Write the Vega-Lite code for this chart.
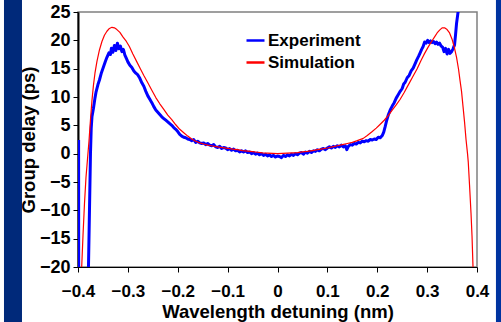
{
  "$schema": "https://vega.github.io/schema/vega-lite/v6.json",
  "autosize": "none",
  "width": 399,
  "height": 255,
  "padding": {"left": 78, "top": 12, "right": 24, "bottom": 55},
  "background": "white",
  "config": {
    "view": {"stroke": "#808080", "strokeWidth": 1.5},
    "font": "Liberation Sans",
    "axis": {
      "labelFont": "Liberation Sans", "labelFontWeight": "bold", "labelColor": "black",
      "titleFont": "Liberation Sans", "titleFontWeight": "bold", "titleColor": "black",
      "domainColor": "black", "tickColor": "black", "grid": false
    },
    "legend": {"labelFont": "Liberation Sans", "labelFontWeight": "bold", "labelColor": "black"}
  },
  "resolve": {"axis": {"x": "independent", "y": "independent"}},
  "datasets": {
    "bands": [
      {"side": "left", "x0": -0.5484, "x1": -0.5123, "y0": -40, "y1": 40},
      {"side": "right", "x0": 0.438, "x1": 0.47, "y0": -40, "y1": 40}
    ],
    "curves": [
      {"series": "Experiment", "detuning": -0.3988, "delay": 2.4},
      {"series": "Experiment", "detuning": -0.3986, "delay": -30},
      {"series": "Experiment", "detuning": -0.3795, "delay": -30},
      {"series": "Experiment", "detuning": -0.379, "delay": -20},
      {"series": "Experiment", "detuning": -0.377, "delay": -10},
      {"series": "Experiment", "detuning": -0.375, "delay": 0},
      {"series": "Experiment", "detuning": -0.3735, "delay": 4.5},
      {"series": "Experiment", "detuning": -0.372, "delay": 6.5},
      {"series": "Experiment", "detuning": -0.369, "delay": 8.0},
      {"series": "Experiment", "detuning": -0.366, "delay": 9.8},
      {"series": "Experiment", "detuning": -0.364, "delay": 10.8},
      {"series": "Experiment", "detuning": -0.36, "delay": 12.2},
      {"series": "Experiment", "detuning": -0.357, "delay": 13.0},
      {"series": "Experiment", "detuning": -0.353, "delay": 14.3},
      {"series": "Experiment", "detuning": -0.349, "delay": 15.3},
      {"series": "Experiment", "detuning": -0.345, "delay": 16.3},
      {"series": "Experiment", "detuning": -0.342, "delay": 17.0},
      {"series": "Experiment", "detuning": -0.338, "delay": 17.8},
      {"series": "Experiment", "detuning": -0.335, "delay": 17.5},
      {"series": "Experiment", "detuning": -0.333, "delay": 18.6},
      {"series": "Experiment", "detuning": -0.33, "delay": 17.9},
      {"series": "Experiment", "detuning": -0.327, "delay": 19.1},
      {"series": "Experiment", "detuning": -0.324, "delay": 18.2},
      {"series": "Experiment", "detuning": -0.321, "delay": 19.5},
      {"series": "Experiment", "detuning": -0.318, "delay": 18.5},
      {"series": "Experiment", "detuning": -0.315, "delay": 19.0},
      {"series": "Experiment", "detuning": -0.312, "delay": 18.0},
      {"series": "Experiment", "detuning": -0.309, "delay": 18.4},
      {"series": "Experiment", "detuning": -0.306, "delay": 17.4},
      {"series": "Experiment", "detuning": -0.303, "delay": 16.8},
      {"series": "Experiment", "detuning": -0.3, "delay": 16.2},
      {"series": "Experiment", "detuning": -0.296, "delay": 15.6},
      {"series": "Experiment", "detuning": -0.292, "delay": 15.2},
      {"series": "Experiment", "detuning": -0.288, "delay": 14.6},
      {"series": "Experiment", "detuning": -0.284, "delay": 14.2},
      {"series": "Experiment", "detuning": -0.28, "delay": 13.9},
      {"series": "Experiment", "detuning": -0.276, "delay": 13.3},
      {"series": "Experiment", "detuning": -0.272, "delay": 12.5},
      {"series": "Experiment", "detuning": -0.268, "delay": 11.9},
      {"series": "Experiment", "detuning": -0.264, "delay": 11.0},
      {"series": "Experiment", "detuning": -0.26, "delay": 10.2},
      {"series": "Experiment", "detuning": -0.256, "delay": 9.6},
      {"series": "Experiment", "detuning": -0.252, "delay": 9.0},
      {"series": "Experiment", "detuning": -0.248, "delay": 8.3},
      {"series": "Experiment", "detuning": -0.244, "delay": 7.7},
      {"series": "Experiment", "detuning": -0.24, "delay": 7.3},
      {"series": "Experiment", "detuning": -0.236, "delay": 6.9},
      {"series": "Experiment", "detuning": -0.232, "delay": 6.5},
      {"series": "Experiment", "detuning": -0.228, "delay": 6.2},
      {"series": "Experiment", "detuning": -0.224, "delay": 5.9},
      {"series": "Experiment", "detuning": -0.22, "delay": 5.6},
      {"series": "Experiment", "detuning": -0.216, "delay": 5.3},
      {"series": "Experiment", "detuning": -0.212, "delay": 5.0},
      {"series": "Experiment", "detuning": -0.208, "delay": 4.6},
      {"series": "Experiment", "detuning": -0.204, "delay": 4.3},
      {"series": "Experiment", "detuning": -0.2, "delay": 3.9},
      {"series": "Experiment", "detuning": -0.196, "delay": 3.4},
      {"series": "Experiment", "detuning": -0.192, "delay": 3.1},
      {"series": "Experiment", "detuning": -0.188, "delay": 2.9},
      {"series": "Experiment", "detuning": -0.184, "delay": 2.8},
      {"series": "Experiment", "detuning": -0.18, "delay": 2.6},
      {"series": "Experiment", "detuning": -0.176, "delay": 2.5},
      {"series": "Experiment", "detuning": -0.172, "delay": 2.3},
      {"series": "Experiment", "detuning": -0.168, "delay": 2.5},
      {"series": "Experiment", "detuning": -0.164, "delay": 2.0},
      {"series": "Experiment", "detuning": -0.16, "delay": 2.2},
      {"series": "Experiment", "detuning": -0.156, "delay": 1.9},
      {"series": "Experiment", "detuning": -0.152, "delay": 1.8},
      {"series": "Experiment", "detuning": -0.148, "delay": 1.9},
      {"series": "Experiment", "detuning": -0.144, "delay": 1.6},
      {"series": "Experiment", "detuning": -0.14, "delay": 1.8},
      {"series": "Experiment", "detuning": -0.136, "delay": 1.5},
      {"series": "Experiment", "detuning": -0.132, "delay": 1.4},
      {"series": "Experiment", "detuning": -0.128, "delay": 1.6},
      {"series": "Experiment", "detuning": -0.124, "delay": 1.2},
      {"series": "Experiment", "detuning": -0.12, "delay": 1.1},
      {"series": "Experiment", "detuning": -0.116, "delay": 1.3},
      {"series": "Experiment", "detuning": -0.112, "delay": 0.9},
      {"series": "Experiment", "detuning": -0.108, "delay": 1.1},
      {"series": "Experiment", "detuning": -0.104, "delay": 1.0},
      {"series": "Experiment", "detuning": -0.1, "delay": 0.7},
      {"series": "Experiment", "detuning": -0.096, "delay": 0.9},
      {"series": "Experiment", "detuning": -0.092, "delay": 0.6},
      {"series": "Experiment", "detuning": -0.088, "delay": 0.8},
      {"series": "Experiment", "detuning": -0.084, "delay": 0.5},
      {"series": "Experiment", "detuning": -0.08, "delay": 0.6},
      {"series": "Experiment", "detuning": -0.076, "delay": 0.3},
      {"series": "Experiment", "detuning": -0.072, "delay": 0.5},
      {"series": "Experiment", "detuning": -0.068, "delay": 0.3},
      {"series": "Experiment", "detuning": -0.064, "delay": 0.5},
      {"series": "Experiment", "detuning": -0.06, "delay": 0.2},
      {"series": "Experiment", "detuning": -0.056, "delay": 0.3},
      {"series": "Experiment", "detuning": -0.052, "delay": 0.0},
      {"series": "Experiment", "detuning": -0.048, "delay": 0.2},
      {"series": "Experiment", "detuning": -0.044, "delay": -0.1},
      {"series": "Experiment", "detuning": -0.04, "delay": 0.1},
      {"series": "Experiment", "detuning": -0.036, "delay": -0.2},
      {"series": "Experiment", "detuning": -0.032, "delay": 0.0},
      {"series": "Experiment", "detuning": -0.028, "delay": -0.3},
      {"series": "Experiment", "detuning": -0.024, "delay": -0.1},
      {"series": "Experiment", "detuning": -0.02, "delay": -0.4},
      {"series": "Experiment", "detuning": -0.016, "delay": -0.2},
      {"series": "Experiment", "detuning": -0.012, "delay": -0.5},
      {"series": "Experiment", "detuning": -0.008, "delay": -0.3},
      {"series": "Experiment", "detuning": -0.004, "delay": -0.6},
      {"series": "Experiment", "detuning": 0.0, "delay": -0.4},
      {"series": "Experiment", "detuning": 0.004, "delay": -0.5},
      {"series": "Experiment", "detuning": 0.008, "delay": -0.7},
      {"series": "Experiment", "detuning": 0.012, "delay": -0.3},
      {"series": "Experiment", "detuning": 0.016, "delay": -0.5},
      {"series": "Experiment", "detuning": 0.02, "delay": -0.2},
      {"series": "Experiment", "detuning": 0.024, "delay": -0.4},
      {"series": "Experiment", "detuning": 0.028, "delay": -0.1},
      {"series": "Experiment", "detuning": 0.032, "delay": -0.3},
      {"series": "Experiment", "detuning": 0.036, "delay": 0.0},
      {"series": "Experiment", "detuning": 0.04, "delay": -0.2},
      {"series": "Experiment", "detuning": 0.044, "delay": 0.1},
      {"series": "Experiment", "detuning": 0.048, "delay": 0.2},
      {"series": "Experiment", "detuning": 0.052, "delay": -0.1},
      {"series": "Experiment", "detuning": 0.056, "delay": 0.3},
      {"series": "Experiment", "detuning": 0.06, "delay": 0.1},
      {"series": "Experiment", "detuning": 0.064, "delay": 0.4},
      {"series": "Experiment", "detuning": 0.068, "delay": 0.2},
      {"series": "Experiment", "detuning": 0.072, "delay": 0.5},
      {"series": "Experiment", "detuning": 0.076, "delay": 0.4},
      {"series": "Experiment", "detuning": 0.08, "delay": 0.7},
      {"series": "Experiment", "detuning": 0.084, "delay": 0.5},
      {"series": "Experiment", "detuning": 0.088, "delay": 0.8},
      {"series": "Experiment", "detuning": 0.092, "delay": 0.9},
      {"series": "Experiment", "detuning": 0.096, "delay": 0.7},
      {"series": "Experiment", "detuning": 0.1, "delay": 1.0},
      {"series": "Experiment", "detuning": 0.104, "delay": 1.2},
      {"series": "Experiment", "detuning": 0.108, "delay": 1.0},
      {"series": "Experiment", "detuning": 0.112, "delay": 1.3},
      {"series": "Experiment", "detuning": 0.116, "delay": 1.1},
      {"series": "Experiment", "detuning": 0.12, "delay": 1.4},
      {"series": "Experiment", "detuning": 0.124, "delay": 1.2},
      {"series": "Experiment", "detuning": 0.128, "delay": 1.5},
      {"series": "Experiment", "detuning": 0.132, "delay": 1.2},
      {"series": "Experiment", "detuning": 0.136, "delay": 1.4},
      {"series": "Experiment", "detuning": 0.139, "delay": 0.7},
      {"series": "Experiment", "detuning": 0.142, "delay": 1.3},
      {"series": "Experiment", "detuning": 0.146, "delay": 1.6},
      {"series": "Experiment", "detuning": 0.15, "delay": 1.5},
      {"series": "Experiment", "detuning": 0.154, "delay": 1.8},
      {"series": "Experiment", "detuning": 0.158, "delay": 1.7},
      {"series": "Experiment", "detuning": 0.162, "delay": 2.0},
      {"series": "Experiment", "detuning": 0.166, "delay": 1.9},
      {"series": "Experiment", "detuning": 0.17, "delay": 2.2},
      {"series": "Experiment", "detuning": 0.174, "delay": 2.1},
      {"series": "Experiment", "detuning": 0.178, "delay": 2.3},
      {"series": "Experiment", "detuning": 0.182, "delay": 2.2},
      {"series": "Experiment", "detuning": 0.186, "delay": 2.5},
      {"series": "Experiment", "detuning": 0.19, "delay": 2.4},
      {"series": "Experiment", "detuning": 0.194, "delay": 2.6},
      {"series": "Experiment", "detuning": 0.198, "delay": 2.5},
      {"series": "Experiment", "detuning": 0.202, "delay": 2.9},
      {"series": "Experiment", "detuning": 0.206, "delay": 2.8},
      {"series": "Experiment", "detuning": 0.21, "delay": 3.2},
      {"series": "Experiment", "detuning": 0.213, "delay": 3.8},
      {"series": "Experiment", "detuning": 0.216, "delay": 4.8},
      {"series": "Experiment", "detuning": 0.219, "delay": 5.9},
      {"series": "Experiment", "detuning": 0.222, "delay": 6.8},
      {"series": "Experiment", "detuning": 0.226, "delay": 7.7},
      {"series": "Experiment", "detuning": 0.23, "delay": 8.4},
      {"series": "Experiment", "detuning": 0.234, "delay": 9.0},
      {"series": "Experiment", "detuning": 0.238, "delay": 9.8},
      {"series": "Experiment", "detuning": 0.242, "delay": 10.4},
      {"series": "Experiment", "detuning": 0.246, "delay": 11.0},
      {"series": "Experiment", "detuning": 0.25, "delay": 11.5},
      {"series": "Experiment", "detuning": 0.253, "delay": 12.3},
      {"series": "Experiment", "detuning": 0.256, "delay": 12.6},
      {"series": "Experiment", "detuning": 0.26, "delay": 13.4},
      {"series": "Experiment", "detuning": 0.264, "delay": 13.8},
      {"series": "Experiment", "detuning": 0.268, "delay": 14.6},
      {"series": "Experiment", "detuning": 0.272, "delay": 15.1},
      {"series": "Experiment", "detuning": 0.276, "delay": 15.9},
      {"series": "Experiment", "detuning": 0.279, "delay": 16.5},
      {"series": "Experiment", "detuning": 0.283, "delay": 17.2},
      {"series": "Experiment", "detuning": 0.286, "delay": 17.8},
      {"series": "Experiment", "detuning": 0.289, "delay": 18.4},
      {"series": "Experiment", "detuning": 0.292, "delay": 18.9},
      {"series": "Experiment", "detuning": 0.295, "delay": 19.7},
      {"series": "Experiment", "detuning": 0.298, "delay": 19.5},
      {"series": "Experiment", "detuning": 0.301, "delay": 20.0},
      {"series": "Experiment", "detuning": 0.304, "delay": 19.6},
      {"series": "Experiment", "detuning": 0.307, "delay": 19.9},
      {"series": "Experiment", "detuning": 0.31, "delay": 19.6},
      {"series": "Experiment", "detuning": 0.313, "delay": 19.8},
      {"series": "Experiment", "detuning": 0.316, "delay": 19.4},
      {"series": "Experiment", "detuning": 0.319, "delay": 19.7},
      {"series": "Experiment", "detuning": 0.322, "delay": 19.3},
      {"series": "Experiment", "detuning": 0.325, "delay": 19.5},
      {"series": "Experiment", "detuning": 0.328, "delay": 19.0},
      {"series": "Experiment", "detuning": 0.331, "delay": 18.8},
      {"series": "Experiment", "detuning": 0.334, "delay": 18.0},
      {"series": "Experiment", "detuning": 0.337, "delay": 18.6},
      {"series": "Experiment", "detuning": 0.34, "delay": 17.6},
      {"series": "Experiment", "detuning": 0.343, "delay": 18.4},
      {"series": "Experiment", "detuning": 0.346, "delay": 17.7},
      {"series": "Experiment", "detuning": 0.349, "delay": 18.0},
      {"series": "Experiment", "detuning": 0.352, "delay": 18.5},
      {"series": "Experiment", "detuning": 0.355, "delay": 19.2},
      {"series": "Experiment", "detuning": 0.357, "delay": 21.0},
      {"series": "Experiment", "detuning": 0.359, "delay": 23.0},
      {"series": "Experiment", "detuning": 0.3625, "delay": 25.3},
      {"series": "Experiment", "detuning": 0.366, "delay": 30},
      {"series": "Simulation", "detuning": -0.3926, "delay": -20},
      {"series": "Simulation", "detuning": -0.39, "delay": -14.5},
      {"series": "Simulation", "detuning": -0.387, "delay": -8.8},
      {"series": "Simulation", "detuning": -0.384, "delay": -4.2},
      {"series": "Simulation", "detuning": -0.381, "delay": -1.0},
      {"series": "Simulation", "detuning": -0.378, "delay": 2.2},
      {"series": "Simulation", "detuning": -0.375, "delay": 6.0},
      {"series": "Simulation", "detuning": -0.372, "delay": 9.4},
      {"series": "Simulation", "detuning": -0.369, "delay": 12.1},
      {"series": "Simulation", "detuning": -0.366, "delay": 14.2},
      {"series": "Simulation", "detuning": -0.362, "delay": 16.3},
      {"series": "Simulation", "detuning": -0.357, "delay": 18.3},
      {"series": "Simulation", "detuning": -0.352, "delay": 19.8},
      {"series": "Simulation", "detuning": -0.347, "delay": 20.9},
      {"series": "Simulation", "detuning": -0.342, "delay": 21.6},
      {"series": "Simulation", "detuning": -0.337, "delay": 22.1},
      {"series": "Simulation", "detuning": -0.332, "delay": 22.3},
      {"series": "Simulation", "detuning": -0.327, "delay": 22.2},
      {"series": "Simulation", "detuning": -0.322, "delay": 21.9},
      {"series": "Simulation", "detuning": -0.316, "delay": 21.4},
      {"series": "Simulation", "detuning": -0.31, "delay": 20.6},
      {"series": "Simulation", "detuning": -0.303, "delay": 19.8},
      {"series": "Simulation", "detuning": -0.297, "delay": 18.9},
      {"series": "Simulation", "detuning": -0.29, "delay": 17.6},
      {"series": "Simulation", "detuning": -0.282, "delay": 16.2},
      {"series": "Simulation", "detuning": -0.275, "delay": 15.0},
      {"series": "Simulation", "detuning": -0.268, "delay": 13.8},
      {"series": "Simulation", "detuning": -0.26, "delay": 12.5},
      {"series": "Simulation", "detuning": -0.252, "delay": 11.2},
      {"series": "Simulation", "detuning": -0.244, "delay": 9.9},
      {"series": "Simulation", "detuning": -0.236, "delay": 8.8},
      {"series": "Simulation", "detuning": -0.228, "delay": 7.8},
      {"series": "Simulation", "detuning": -0.22, "delay": 6.8},
      {"series": "Simulation", "detuning": -0.212, "delay": 6.0},
      {"series": "Simulation", "detuning": -0.204, "delay": 5.1},
      {"series": "Simulation", "detuning": -0.196, "delay": 4.3},
      {"series": "Simulation", "detuning": -0.188, "delay": 3.7},
      {"series": "Simulation", "detuning": -0.18, "delay": 3.1},
      {"series": "Simulation", "detuning": -0.172, "delay": 2.6},
      {"series": "Simulation", "detuning": -0.164, "delay": 2.2},
      {"series": "Simulation", "detuning": -0.156, "delay": 1.9},
      {"series": "Simulation", "detuning": -0.148, "delay": 1.7},
      {"series": "Simulation", "detuning": -0.14, "delay": 1.5},
      {"series": "Simulation", "detuning": -0.13, "delay": 1.35},
      {"series": "Simulation", "detuning": -0.12, "delay": 1.2},
      {"series": "Simulation", "detuning": -0.11, "delay": 1.05},
      {"series": "Simulation", "detuning": -0.1, "delay": 0.95},
      {"series": "Simulation", "detuning": -0.09, "delay": 0.8},
      {"series": "Simulation", "detuning": -0.08, "delay": 0.7},
      {"series": "Simulation", "detuning": -0.07, "delay": 0.55},
      {"series": "Simulation", "detuning": -0.06, "delay": 0.45},
      {"series": "Simulation", "detuning": -0.05, "delay": 0.35},
      {"series": "Simulation", "detuning": -0.04, "delay": 0.25},
      {"series": "Simulation", "detuning": -0.03, "delay": 0.15},
      {"series": "Simulation", "detuning": -0.02, "delay": 0.1},
      {"series": "Simulation", "detuning": -0.01, "delay": 0.05},
      {"series": "Simulation", "detuning": 0.0, "delay": 0.0},
      {"series": "Simulation", "detuning": 0.01, "delay": 0.05},
      {"series": "Simulation", "detuning": 0.02, "delay": 0.1},
      {"series": "Simulation", "detuning": 0.03, "delay": 0.15},
      {"series": "Simulation", "detuning": 0.04, "delay": 0.2},
      {"series": "Simulation", "detuning": 0.05, "delay": 0.3},
      {"series": "Simulation", "detuning": 0.06, "delay": 0.4},
      {"series": "Simulation", "detuning": 0.07, "delay": 0.55},
      {"series": "Simulation", "detuning": 0.08, "delay": 0.7},
      {"series": "Simulation", "detuning": 0.09, "delay": 0.85},
      {"series": "Simulation", "detuning": 0.1, "delay": 1.0},
      {"series": "Simulation", "detuning": 0.11, "delay": 1.2},
      {"series": "Simulation", "detuning": 0.12, "delay": 1.4},
      {"series": "Simulation", "detuning": 0.13, "delay": 1.6},
      {"series": "Simulation", "detuning": 0.14, "delay": 1.8},
      {"series": "Simulation", "detuning": 0.15, "delay": 2.0},
      {"series": "Simulation", "detuning": 0.16, "delay": 2.3},
      {"series": "Simulation", "detuning": 0.172, "delay": 2.7},
      {"series": "Simulation", "detuning": 0.18, "delay": 3.2},
      {"series": "Simulation", "detuning": 0.19, "delay": 3.9},
      {"series": "Simulation", "detuning": 0.198, "delay": 4.5},
      {"series": "Simulation", "detuning": 0.205, "delay": 5.1},
      {"series": "Simulation", "detuning": 0.214, "delay": 5.9},
      {"series": "Simulation", "detuning": 0.222, "delay": 6.7},
      {"series": "Simulation", "detuning": 0.23, "delay": 7.7},
      {"series": "Simulation", "detuning": 0.238, "delay": 8.6},
      {"series": "Simulation", "detuning": 0.246, "delay": 9.6},
      {"series": "Simulation", "detuning": 0.254, "delay": 10.8},
      {"series": "Simulation", "detuning": 0.262, "delay": 12.1},
      {"series": "Simulation", "detuning": 0.272, "delay": 13.7},
      {"series": "Simulation", "detuning": 0.28, "delay": 15.0},
      {"series": "Simulation", "detuning": 0.288, "delay": 16.5},
      {"series": "Simulation", "detuning": 0.295, "delay": 17.7},
      {"series": "Simulation", "detuning": 0.302, "delay": 18.8},
      {"series": "Simulation", "detuning": 0.309, "delay": 19.8},
      {"series": "Simulation", "detuning": 0.315, "delay": 20.6},
      {"series": "Simulation", "detuning": 0.32, "delay": 21.3},
      {"series": "Simulation", "detuning": 0.325, "delay": 21.8},
      {"series": "Simulation", "detuning": 0.33, "delay": 22.2},
      {"series": "Simulation", "detuning": 0.335, "delay": 22.2},
      {"series": "Simulation", "detuning": 0.34, "delay": 21.9},
      {"series": "Simulation", "detuning": 0.345, "delay": 21.3},
      {"series": "Simulation", "detuning": 0.35, "delay": 20.2},
      {"series": "Simulation", "detuning": 0.355, "delay": 18.6},
      {"series": "Simulation", "detuning": 0.359, "delay": 17.0},
      {"series": "Simulation", "detuning": 0.363, "delay": 14.9},
      {"series": "Simulation", "detuning": 0.366, "delay": 12.9},
      {"series": "Simulation", "detuning": 0.369, "delay": 11.0},
      {"series": "Simulation", "detuning": 0.372, "delay": 8.3},
      {"series": "Simulation", "detuning": 0.375, "delay": 5.6},
      {"series": "Simulation", "detuning": 0.378, "delay": 2.5},
      {"series": "Simulation", "detuning": 0.381, "delay": 0.0},
      {"series": "Simulation", "detuning": 0.3825, "delay": -1.5},
      {"series": "Simulation", "detuning": 0.385, "delay": -5.5},
      {"series": "Simulation", "detuning": 0.388, "delay": -10.5},
      {"series": "Simulation", "detuning": 0.39, "delay": -14.5},
      {"series": "Simulation", "detuning": 0.392, "delay": -20}
    ]
  },
  "layer": [
    {
      "data": {"name": "curves"},
      "mark": {"type": "line", "clip": true, "strokeJoin": "round"},
      "encoding": {
        "x": {"field": "detuning", "type": "quantitative",
              "scale": {"domain": [-0.4, 0.4], "nice": false, "zero": false},
              "axis": {"orient": "bottom", "title": "Wavelength detuning (nm)", "values": [-0.4, -0.3, -0.2, -0.1, 0, 0.1, 0.2, 0.3, 0.4],
                       "labelExpr": "datum.value == 0 ? '0' : format(datum.value, '.1f')",
                       "labelFontSize": 17, "titleFontSize": 18.5, "tickSize": 5, "labelPadding": 11, "titlePadding": 3,
                       "domainWidth": 1, "labelFlush": false}},
        "y": {"field": "delay", "type": "quantitative",
              "scale": {"domain": [-20, 25], "nice": false, "zero": false},
              "axis": {"title": "Group delay (ps)", "values": [-20, -15, -10, -5, 0, 5, 10, 15, 20, 25],
                       "labelFontSize": 18, "titleFontSize": 18.5, "tickSize": 5, "labelPadding": 3, "titlePadding": 1,
                       "domainWidth": 2, "labelFlush": false}},
        "color": {"field": "series", "type": "nominal",
                  "scale": {"domain": ["Experiment", "Simulation"], "range": ["#0000ff", "#ff0000"]},
                  "legend": {"title": null, "orient": "none", "legendX": 167, "legendY": 18, "symbolType": "stroke",
                             "symbolSize": 324, "symbolStrokeWidth": 2.5, "labelFontSize": 17, "labelOffset": 2,
                             "rowPadding": 3, "padding": 0}},
        "strokeWidth": {"condition": {"test": "datum.series === 'Experiment'", "value": 3}, "value": 1.2},
        "order": {"field": "detuning", "type": "quantitative"}
      }
    },
    {
      "mark": {"type": "rule", "color": "black", "strokeWidth": 1},
      "encoding": {"y": {"datum": 25, "type": "quantitative", "axis": null}}
    },
    {
      "data": {"name": "bands"},
      "transform": [{"filter": "datum.side === 'left'"}],
      "mark": {"type": "rect", "clip": false, "color": "#00297a"},
      "encoding": {
        "x": {"field": "x0", "type": "quantitative", "axis": null},
        "x2": {"field": "x1"},
        "y": {"field": "y0", "type": "quantitative", "axis": null},
        "y2": {"field": "y1"}
      }
    },
    {
      "data": {"name": "bands"},
      "transform": [{"filter": "datum.side === 'right'"}],
      "mark": {"type": "rect", "clip": false, "color": "#0033a0"},
      "encoding": {
        "x": {"field": "x0", "type": "quantitative", "axis": null},
        "x2": {"field": "x1"},
        "y": {"field": "y0", "type": "quantitative", "axis": null},
        "y2": {"field": "y1"}
      }
    }
  ]
}
